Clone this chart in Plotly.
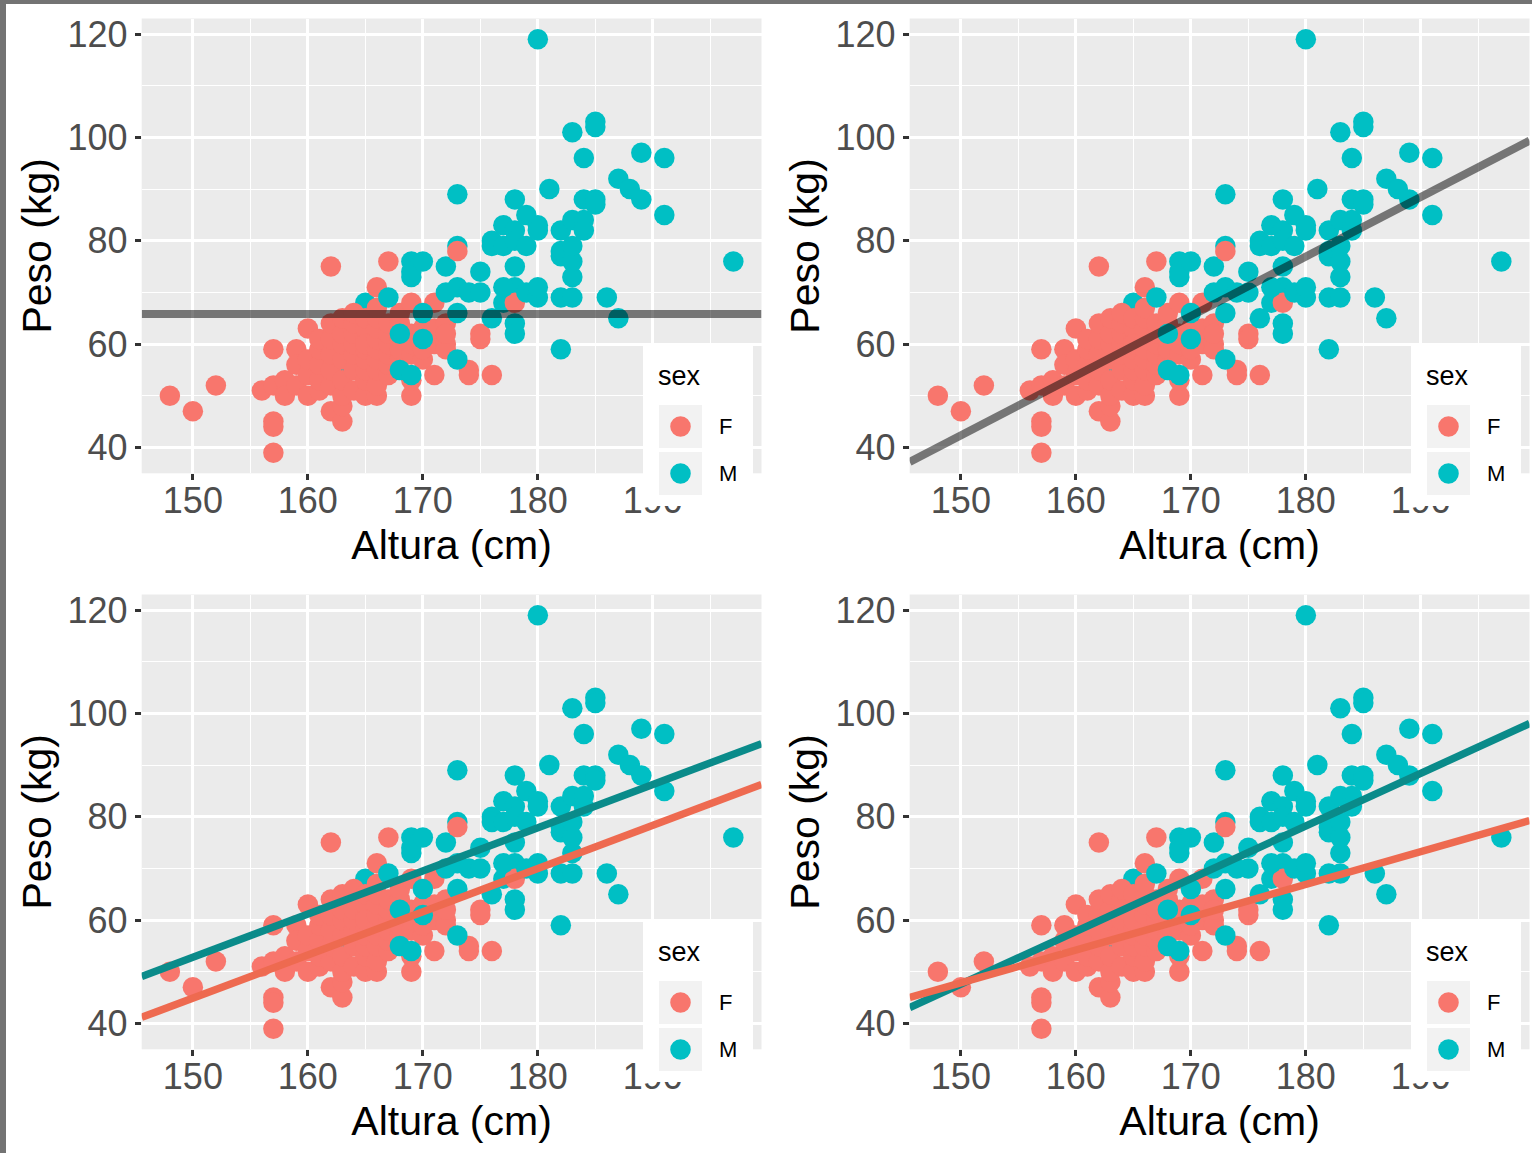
import plotly.graph_objects as go

# Height (cm) and weight (kg) by sex
f_height = [148, 150, 152, 156, 157, 157, 157, 157, 157, 158, 158, 159, 159, 159,
            160, 160, 160, 160, 161, 161, 161, 161, 161,
            162, 162, 162, 162, 162, 162, 162,
            163, 163, 163, 163, 163, 163, 163, 163,
            164, 164, 164, 164, 164, 164, 164,
            165, 165, 165, 165, 165, 165, 165, 165, 165,
            166, 166, 166, 166, 166, 166, 166, 166, 166, 166,
            167, 167, 167, 167, 167, 167, 167,
            168, 168, 168, 168, 168,
            169, 169, 169, 169, 169, 169,
            170, 170, 170, 170,
            171, 171, 171, 171,
            172, 172, 172, 172,
            173, 174, 174, 175, 175, 176, 178]
f_weight = [50, 47, 52, 51, 59, 52, 45, 44, 39, 53, 50, 59, 56, 52,
            63, 50, 54, 57, 51, 53, 56, 59, 61,
            47, 75, 52, 55, 58, 61, 64,
            45, 48, 50, 53, 57, 60, 62, 65,
            51, 55, 58, 60, 62, 64, 66,
            50, 53, 55, 57, 59, 61, 63, 65, 60,
            50, 52, 55, 57, 59, 61, 63, 65, 67, 71,
            76, 54, 56, 58, 60, 62, 64,
            57, 59, 61, 64, 66,
            50, 53, 58, 62, 68, 60,
            57, 59, 61, 63,
            54, 68, 60, 63,
            60, 59, 64, 62,
            78, 55, 54, 62, 61, 54, 68]

# male subjects whose points sit beneath the female points
m_back_height = [163, 165, 172, 173, 177, 178]
m_back_weight = [56, 68, 75, 79, 68, 71]

# remaining male subjects
m_height = [167, 168, 168, 169, 169, 169, 169, 170, 170, 170,
            172, 173, 173, 173, 173, 174, 175, 175,
            176, 176, 176, 177, 177, 177,
            178, 178, 178, 178, 178, 178, 179, 179, 179,
            180, 180, 180, 180, 180, 181, 182, 182, 182, 182, 182,
            183, 183, 183, 183, 183, 183, 184, 184, 184, 184,
            185, 185, 185, 185, 186, 187, 187, 188, 189, 189, 191, 191, 197]
m_weight = [69, 55, 62, 54, 76, 73, 74, 76, 61, 66,
            70, 89, 57, 66, 71, 70, 74, 70,
            65, 80, 79, 71, 83, 79,
            64, 62, 75, 88, 82, 80, 85, 79, 70,
            119, 69, 71, 83, 82, 90, 59, 69, 77, 82, 78,
            69, 73, 76, 79, 101, 84, 96, 88, 84, 82,
            103, 102, 88, 87, 69, 65, 92, 90, 97, 88, 96, 85, 76]

sex_levels = ["F", "M"]
point_colors = {"F": "#F8766D", "M": "#00BFC4"}
line_colors = {"F": "#EE6A50", "M": "#0A8B8A"}

# Fitted models: mean only, pooled line, additive by sex, interaction by sex
mean_weight = 65.8
fit_pooled = (-130.6, 1.153)
fit_additive = {"F": (-80.5, 0.836), "M": (-72.6, 0.836)}
fit_interaction = {"F": (-47.4, 0.635), "M": (-105.4, 1.020)}

x_ticks = [150, 160, 170, 180, 190]
x_minor = [155, 165, 175, 185, 195]
y_ticks = [40, 60, 80, 100, 120]
y_minor = [50, 70, 90, 110]
x_range = [145.55, 199.45]
y_range = [35, 123]

W, H = 1532, 1153
FONT = "Liberation Sans, Arial, Helvetica, sans-serif"


def fx(px):
    return px / W


def fy(py):
    return 1 - py / H


# panel box in pixels (left, right, top, bottom) and offsets for the 2x2 grid
P_L, P_R, P_T, P_B = 141.7, 761.5, 18.5, 473.3
offsets = [(0, 0), (768, 0), (0, 576), (768, 576)]

layers = [("M", m_back_height, m_back_weight),
          ("F", f_height, f_weight),
          ("M", m_height, m_weight)]

fig = go.Figure()

for i, (dx, dy) in enumerate(offsets, start=1):
    xa, ya = f"x{i}", f"y{i}"
    for s, hx, wy in layers:
        fig.add_trace(go.Scatter(
            x=hx, y=wy, mode="markers", name=s, showlegend=False,
            marker=dict(size=20.5, color=point_colors[s], line=dict(width=0)),
            xaxis=xa, yaxis=ya))

    x_line = x_range
    if i == 1:
        fig.add_trace(go.Scatter(x=x_line, y=[mean_weight, mean_weight], mode="lines",
                                 line=dict(color="rgba(0,0,0,0.5)", width=8),
                                 showlegend=False, xaxis=xa, yaxis=ya))
    elif i == 2:
        b0, b1 = fit_pooled
        fig.add_trace(go.Scatter(x=x_line, y=[b0 + b1 * v for v in x_line], mode="lines",
                                 line=dict(color="rgba(0,0,0,0.5)", width=8),
                                 showlegend=False, xaxis=xa, yaxis=ya))
    else:
        fits = fit_additive if i == 3 else fit_interaction
        for s in ["M", "F"]:
            b0, b1 = fits[s]
            fig.add_trace(go.Scatter(x=x_line, y=[b0 + b1 * v for v in x_line], mode="lines",
                                     line=dict(color=line_colors[s], width=7.5),
                                     showlegend=False, xaxis=xa, yaxis=ya))

    axis_common = dict(
        ticks="outside", ticklen=6, tickwidth=2.5, tickcolor="#333333",
        tickfont=dict(family=FONT, size=36, color="#4D4D4D"),
        showgrid=True, gridcolor="white", gridwidth=2.6,
        zeroline=False, showline=False, fixedrange=True, automargin=False,
    )
    fig.layout[f"xaxis{i}"] = dict(
        axis_common, domain=[fx(P_L + dx), fx(P_R + dx)], anchor=ya,
        range=x_range, tickvals=x_ticks, ticklabelstandoff=-11,
        minor=dict(tickvals=x_minor, showgrid=True, gridcolor="white", gridwidth=1.3, ticks=""),
        title=dict(text="Altura (cm)", font=dict(family=FONT, size=41, color="black"), standoff=10),
    )
    fig.layout[f"yaxis{i}"] = dict(
        axis_common, domain=[fy(P_B + dy), fy(P_T + dy)], anchor=xa,
        range=y_range, tickvals=y_ticks,
        minor=dict(tickvals=y_minor, showgrid=True, gridcolor="white", gridwidth=1.3, ticks=""),
        title=dict(text="Peso (kg)", font=dict(family=FONT, size=41, color="black"), standoff=3),
    )

    # legend box for sex
    fig.add_shape(type="rect", xref="paper", yref="paper", layer="above",
                  x0=fx(643 + dx), x1=fx(753 + dx), y0=fy(506 + dy), y1=fy(345 + dy),
                  fillcolor="white", line=dict(width=0))
    fig.add_annotation(xref="paper", yref="paper", x=fx(656 + dx), y=fy(376 + dy),
                       xanchor="left", yanchor="middle", text="sex", showarrow=False,
                       font=dict(family=FONT, size=27, color="black"))
    for k, s in enumerate(sex_levels):
        ktop = 405 + 47 * k + dy
        fig.add_shape(type="rect", xref="paper", yref="paper", layer="above",
                      x0=fx(659 + dx), x1=fx(702 + dx), y0=fy(ktop + 43), y1=fy(ktop),
                      fillcolor="#F2F2F2", line=dict(width=0))
        cx, cy, r = 680.5 + dx, ktop + 21.5, 10.3
        fig.add_shape(type="circle", xref="paper", yref="paper", layer="above",
                      x0=fx(cx - r), x1=fx(cx + r), y0=fy(cy + r), y1=fy(cy - r),
                      fillcolor=point_colors[s], line=dict(width=0))
        fig.add_annotation(xref="paper", yref="paper", x=fx(717 + dx), y=fy(cy),
                           xanchor="left", yanchor="middle", text=s, showarrow=False,
                           font=dict(family=FONT, size=22, color="black"))

# frame strips along the top and left edges
fig.add_shape(type="rect", xref="paper", yref="paper", layer="above",
              x0=0, x1=1, y0=fy(4), y1=1, fillcolor="#737373", line=dict(width=0))
fig.add_shape(type="rect", xref="paper", yref="paper", layer="above",
              x0=0, x1=fx(6), y0=0, y1=1, fillcolor="#737373", line=dict(width=0))

fig.update_layout(
    width=W, height=H, margin=dict(l=0, r=0, t=0, b=0),
    paper_bgcolor="white", plot_bgcolor="#EBEBEB",
    font=dict(family=FONT), showlegend=False,
)

fig.write_html("out.html")
